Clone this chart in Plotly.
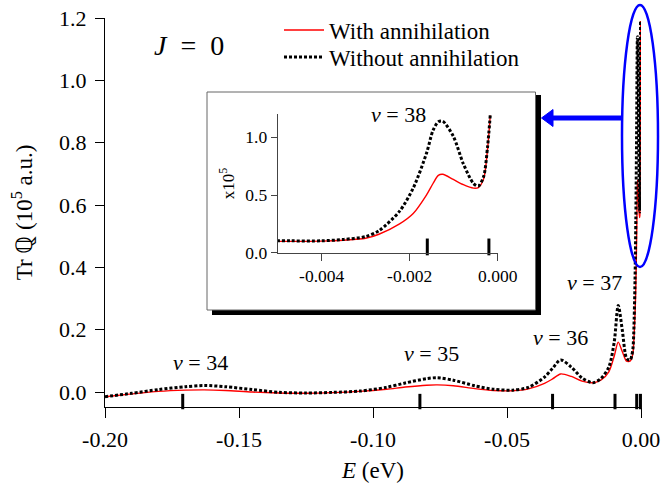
import plotly.graph_objects as go

# ---------------- data ----------------
energy = [-0.200, -0.190, -0.180, -0.170, -0.163, -0.155, -0.145, -0.135, -0.125, -0.115,
          -0.105, -0.095, -0.088, -0.080, -0.076, -0.070, -0.062, -0.055, -0.048, -0.042,
          -0.036, -0.033, -0.030, -0.026, -0.022, -0.018, -0.015, -0.012, -0.010, -0.0085,
          -0.007, -0.0055, -0.0047, -0.0040, -0.0035, -0.0030, -0.0027, -0.00223, -0.00192,
          -0.00162, -0.00147, -0.00135, -0.00125, -0.00101, -0.00078, -0.00055, -0.00044,
          -0.00032, -0.00023, -0.00017]

with_annihilation = [-0.015, -0.006, 0.002, 0.006, 0.007, 0.005, 0.000, -0.003, -0.004, -0.002,
                     0.002, 0.009, 0.016, 0.022, 0.023, 0.020, 0.011, 0.005, 0.004, 0.010,
                     0.028, 0.042, 0.058, 0.050, 0.035, 0.030, 0.038, 0.065, 0.115, 0.160,
                     0.130, 0.100, 0.098, 0.100, 0.108, 0.125, 0.160, 0.250, 0.340,
                     0.500, 0.600, 0.670, 0.680, 0.635, 0.590, 0.560, 0.565,
                     0.640, 0.900, 1.190]

without_annihilation = [-0.015, -0.004, 0.008, 0.017, 0.021, 0.017, 0.008, -0.001, -0.003, -0.001,
                        0.003, 0.015, 0.029, 0.043, 0.046, 0.038, 0.020, 0.009, 0.006, 0.015,
                        0.048, 0.076, 0.103, 0.080, 0.045, 0.030, 0.043, 0.080, 0.160, 0.278,
                        0.200, 0.110, 0.103, 0.103, 0.115, 0.140, 0.190, 0.360, 0.560,
                        0.860, 1.060, 1.135, 1.140, 1.010, 0.770, 0.600, 0.578,
                        0.660, 0.920, 1.190]

level_energies = [-0.171, -0.0825, -0.033, -0.0097, -0.0016, -0.0002]

x_tick_vals = [-0.20, -0.15, -0.10, -0.05, 0.00]
x_tick_text = ["-0.20", "-0.15", "-0.10", "-0.05", "0.00"]
y_tick_vals = [0.0, 0.2, 0.4, 0.6, 0.8, 1.0, 1.2]
y_tick_text = ["0.0", "0.2", "0.4", "0.6", "0.8", "1.0", "1.2"]

inset_x_tick_vals = [-0.004, -0.002, 0.000]
inset_x_tick_text = ["-0.004", "-0.002", "0.000"]
inset_y_tick_vals = [0.0, 0.5, 1.0]
inset_y_tick_text = ["0.0", "0.5", "1.0"]

series_names = ["With annihilation", "Without annihilation"]
level_labels = ["<i>v</i> = 34", "<i>v</i> = 35", "<i>v</i> = 36", "<i>v</i> = 37"]
inset_label = "<i>v</i> = 38"

# ---------------- layout helpers (screen pixel -> paper / container) ----------------
OFF = 0                      # page body margin is removed in post_script
W, H = 664 - OFF, 485 - OFF
ML, MT = 105 - OFF, 18 - OFF
MR = W - (641 - OFF)
MB = H - (407 - OFF)
PW, PH = W - ML - MR, H - MT - MB


def px(x):
    return (x - OFF - ML) / PW


def py(y):
    return (H - MB - (y - OFF)) / PH


def cy(y):
    return 1 - (y - OFF) / H


FONT = "Liberation Serif, serif"
RED = "#ff0000"
BLUE = "#0000ff"
DOT = "3px,2px"

fig = go.Figure()

# main curves
fig.add_trace(go.Scatter(x=energy, y=with_annihilation, mode="lines", name=series_names[0],
                         legend="legend",
                         line=dict(color=RED, width=1.4, shape="spline", smoothing=0.8),
                         xaxis="x", yaxis="y"))
fig.add_trace(go.Scatter(x=energy, y=without_annihilation, mode="lines", name=series_names[1],
                         legend="legend2",
                         line=dict(color="black", width=3, dash=DOT, shape="spline", smoothing=0.8),
                         xaxis="x", yaxis="y"))

# inset curves
fig.add_trace(go.Scatter(x=energy, y=with_annihilation, mode="lines", showlegend=False,
                         line=dict(color=RED, width=1.4, shape="spline", smoothing=0.8),
                         xaxis="x2", yaxis="y2"))
fig.add_trace(go.Scatter(x=energy, y=without_annihilation, mode="lines", showlegend=False,
                         line=dict(color="black", width=3, dash=DOT, shape="spline", smoothing=0.8),
                         xaxis="x2", yaxis="y2"))

# level sticks
fig.add_trace(go.Scatter(x=level_energies, y=[-0.0305] * len(level_energies), mode="markers",
                         showlegend=False, cliponaxis=False,
                         marker=dict(symbol="line-ns", size=11, line=dict(color="black", width=3)),
                         xaxis="x", yaxis="y"))
inset_levels = [e for e in level_energies if e >= -0.005]
fig.add_trace(go.Scatter(x=inset_levels, y=[0.05] * len(inset_levels), mode="markers",
                         showlegend=False, cliponaxis=False,
                         marker=dict(symbol="line-ns", size=12, line=dict(color="black", width=3)),
                         xaxis="x2", yaxis="y2"))

axis_common = dict(showline=True, linecolor="black", linewidth=1, ticks="outside",
                   tickcolor="black", tickwidth=1, showgrid=False, zeroline=False,
                   automargin=False, ticklabeloverflow="allow")
inset_axis = {**axis_common, "linecolor": "#444", "tickcolor": "#444"}

legend_common = dict(xanchor="left", yanchor="middle", xref="paper", yref="container",
                     bgcolor="rgba(0,0,0,0)", font=dict(size=23), itemwidth=40)

fig.update_layout(
    width=W, height=H,
    margin=dict(l=ML, r=MR, t=MT, b=MB, autoexpand=False),
    paper_bgcolor="white", plot_bgcolor="white",
    font=dict(family=FONT, color="black", size=22),
    showlegend=True,
    legend=dict(x=px(279), y=cy(30), **legend_common),
    legend2=dict(x=px(279), y=cy(57), **legend_common),
    xaxis=dict(domain=[0, 1], range=[-0.2, 0.0], tickvals=x_tick_vals, ticktext=x_tick_text,
               ticklen=10, tickfont=dict(size=22), ticklabelstandoff=3,
               title=dict(text="<i>E</i> (eV)", font=dict(size=23), standoff=10),
               anchor="y", **axis_common),
    yaxis=dict(domain=[0, 1], range=[-0.048, 1.2], tickvals=y_tick_vals, ticktext=y_tick_text,
               ticklen=9, tickfont=dict(size=22), ticklabelstandoff=4,
               title=dict(text="Tr ℚ (10<sup>5</sup> a.u.)", font=dict(size=23), standoff=20),
               anchor="x", **axis_common),
    xaxis2=dict(domain=[px(277.7), px(497.7)], range=[-0.005, 0.0],
                tickvals=inset_x_tick_vals, ticktext=inset_x_tick_text,
                ticklen=7, tickfont=dict(size=17.5), anchor="y2", **inset_axis),
    yaxis2=dict(domain=[py(252.7), py(114.3)], range=[0, 1.2],
                tickvals=inset_y_tick_vals, ticktext=inset_y_tick_text,
                ticklen=6, tickfont=dict(size=17.5), anchor="x2",
                title=dict(text="x10<sup>5</sup>", font=dict(size=17), standoff=6),
                **inset_axis),
)

# inset frame with drop shadow
fig.add_shape(type="rect", xref="paper", yref="paper", layer="below",
              x0=px(212), x1=px(541), y0=py(315), y1=py(95),
              fillcolor="black", line=dict(width=0))
fig.add_shape(type="rect", xref="paper", yref="paper", layer="below",
              x0=px(207), x1=px(535.5), y0=py(310), y1=py(92),
              fillcolor="white", line=dict(color="#666", width=1))

# blue ellipse around the near-threshold spike
fig.add_shape(type="circle", xref="paper", yref="paper",
              x0=px(622), x1=px(658), y0=py(267), y1=py(5),
              line=dict(color=BLUE, width=2.5))

# blue arrow pointing to the inset (shaft + head)
fig.add_shape(type="line", xref="paper", yref="paper",
              x0=px(551), x1=px(622), y0=py(118), y1=py(118),
              line=dict(color=BLUE, width=5))
fig.add_shape(type="path", xref="paper", yref="paper",
              path=(f"M {px(541.5)},{py(118)} L {px(553)},{py(109.5)} "
                    f"L {px(553)},{py(126.5)} Z"),
              fillcolor=BLUE, line=dict(color=BLUE, width=1))

# text labels
fig.add_annotation(x=-0.1687, y=1.113, xref="x", yref="y", text="<i>J</i>\u2002=\u20020",
                   showarrow=False, font=dict(size=28))
label_pos = [(-0.1645, 0.096), (-0.078, 0.125), (-0.0302, 0.176), (-0.0175, 0.35)]
for txt, (lx, ly) in zip(level_labels, label_pos):
    fig.add_annotation(x=lx, y=ly, xref="x", yref="y", text=txt, showarrow=False,
                       font=dict(size=22))
fig.add_annotation(x=-0.00226, y=1.20, xref="x2", yref="y2", text=inset_label,
                   showarrow=False, font=dict(size=22))

fig.write_html("out.html",
               config={"displayModeBar": False},
               post_script="document.body.style.margin='0';document.body.style.overflow='hidden';")
